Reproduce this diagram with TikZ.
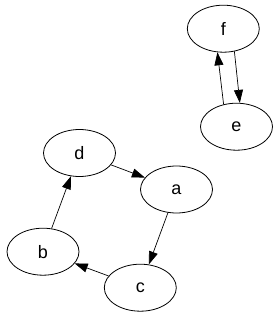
\documentclass[tikz,border=0pt]{standalone}
\usepackage{fontspec}
\setmainfont{Liberation Sans}
\usetikzlibrary{shapes.geometric,arrows.meta}
\begin{document}
\begin{tikzpicture}[x=1pt,y=1pt,
  gnode/.style={draw,ellipse,line width=0.8pt,minimum width=72pt,minimum height=47pt,inner sep=0pt,font=\fontsize{18}{18}\selectfont},
  gedge/.style={line width=0.7pt,-{Triangle[length=13pt,width=9pt]}}]
\useasboundingbox (0,0) rectangle (279,317);
\node[gnode] (f) at (223.3,288.3) {f};
\node[gnode] (e) at (236.5,190.3) {e};
\node[gnode] (d) at (79.5,164) {d};
\node[gnode] (a) at (176.5,127.5) {a};
\node[gnode] (b) at (43,65.3) {b};
\node[gnode] (c) at (140.3,29.3) {c};
\draw[gedge] (f.-64) -- (e.82);
\draw[gedge] (e.120) -- (f.-104);
\draw[gedge] (d) -- (a);
\draw[gedge] (a) -- (c);
\draw[gedge] (c) -- (b);
\draw[gedge] (b) -- (d);
\end{tikzpicture}
\end{document}
